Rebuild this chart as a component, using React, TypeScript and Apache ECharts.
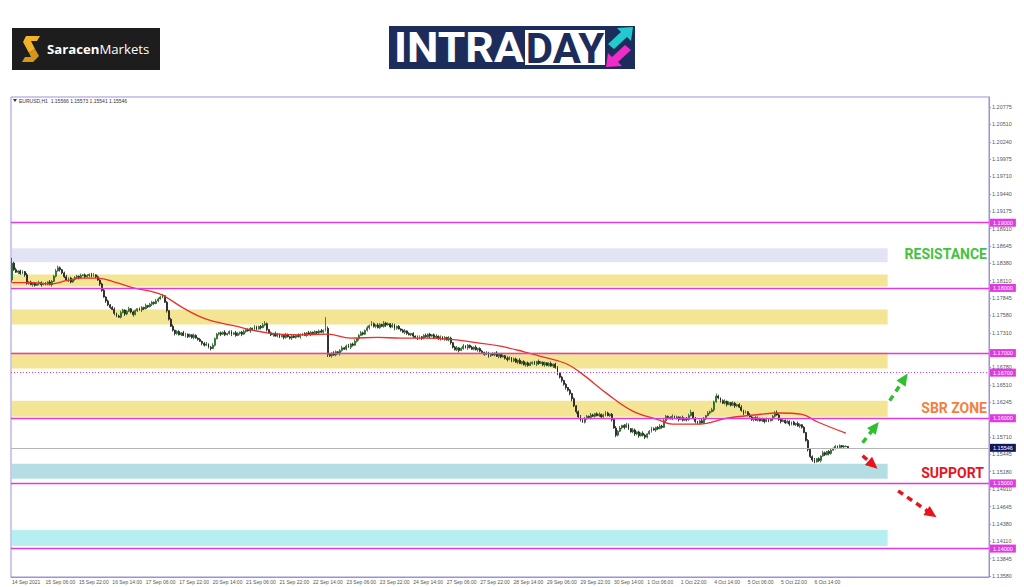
import React, { useEffect, useRef } from "react";
import * as echarts from "echarts";

// ---- data (pips above 1.1000, i.e. 822 -> 1.1822) ----
const firstOpen = 812;
const closes = [
  838,828,824,826,822,825,820,807,809,805,807,804,806,808,805,807,806,809,805,810,
  818,826,831,828,823,817,812,815,809,813,816,818,816,819,820,817,819,821,818,820,
  817,812,806,796,786,780,774,770,767,761,757,755,762,766,760,764,768,763,759,765,
  768,766,770,768,773,771,775,778,776,780,783,786,788,778,765,752,741,735,730,733,
  728,731,727,729,725,728,724,727,723,721,718,715,712,714,709,707,712,722,729,731,
  729,732,728,730,733,729,731,727,730,732,729,733,736,734,738,736,740,737,741,739,
  743,745,736,731,728,730,726,729,725,727,724,728,725,723,726,724,727,725,728,730,
  727,731,729,732,730,733,731,734,732,735,738,698,696,700,697,702,699,704,708,706,
  711,709,714,712,718,722,727,731,729,735,739,742,745,741,743,739,744,741,746,743,
  745,740,743,738,741,737,735,732,734,730,728,730,726,724,722,725,723,727,725,729,
  726,728,724,726,722,725,721,724,720,723,716,709,705,708,704,707,711,708,712,709,
  706,709,705,707,703,701,698,700,696,699,697,700,695,698,694,696,692,690,693,688,
  691,686,689,684,687,682,685,681,684,686,683,687,684,686,682,685,681,684,680,683,
  678,669,663,658,652,647,643,638,630,619,610,602,597,594,599,603,601,605,603,607,
  604,606,602,605,608,604,606,598,585,574,580,585,589,586,590,584,579,582,576,579,
  573,577,574,571,576,580,584,582,586,584,588,586,596,603,601,599,603,600,602,598,
  601,597,600,598,604,609,600,595,592,596,593,600,604,608,610,613,625,634,631,627,
  623,626,621,624,620,623,619,621,617,612,608,610,605,602,598,601,597,600,596,599,
  595,598,596,599,603,608,605,598,595,597,593,595,591,594,590,592,588,590,586,578,
  566,552,541,536,533,538,535,542,547,544,549,546,551,554,557,555,558,556,557,556.6,
  554.6,
];
const wickUp = [
  8,2,3,1,2,2,1,3,1,2,1,2,1,3,2,1,2,1,3,2,
  2,3,3,2,1,2,3,1,2,1,2,2,1,3,1,2,2,1,2,3,
  1,2,1,2,3,1,2,1,2,3,1,2,3,2,1,2,3,1,2,2,
  1,2,2,1,3,1,2,2,1,3,2,2,3,1,2,1,2,3,1,2,
  2,1,3,2,1,2,1,3,2,1,2,1,2,3,1,2,3,2,2,1,
  2,1,3,1,2,2,1,3,2,1,2,3,1,2,2,1,3,2,1,2,
  3,4,2,1,2,1,3,2,1,2,1,3,2,1,2,2,1,3,2,1,
  2,1,3,2,1,2,1,2,3,1,17,3,2,1,3,2,1,2,3,1,
  2,3,1,2,3,1,2,3,2,1,3,2,4,2,1,3,2,1,3,2,
  2,1,3,2,1,2,1,2,3,1,2,1,2,1,3,2,1,2,3,1,
  2,1,2,3,1,2,1,2,1,3,2,1,2,3,1,2,3,1,2,1,
  2,1,3,1,2,2,1,3,2,1,2,1,3,2,1,2,1,3,2,1,
  2,2,1,3,1,2,1,2,3,1,2,1,3,2,1,2,1,2,3,1,
  2,2,1,2,1,2,1,2,1,2,1,2,3,2,3,2,1,3,2,1,
  2,3,1,2,3,2,1,2,1,3,2,3,1,2,3,2,1,3,2,1,
  2,1,3,2,1,2,3,2,1,2,3,2,3,2,1,2,3,1,2,1,
  2,3,1,2,3,4,1,2,1,2,3,2,1,3,2,3,2,4,2,1,
  2,3,1,2,1,3,2,1,2,3,1,2,1,3,2,1,2,3,1,2,
  1,3,2,1,2,3,4,2,1,2,1,3,2,1,2,1,3,2,1,2,
  1,2,1,2,3,1,2,1,3,2,1,2,3,1,2,1,2,1,2,1,
  0.7,
];
const wickDn = [
  4,2,1,3,2,1,3,2,2,1,3,2,1,2,3,1,2,2,1,3,
  1,2,1,3,2,2,1,3,2,1,2,1,3,2,1,2,1,3,2,1,
  2,1,3,2,1,3,2,2,1,3,2,1,2,1,3,2,1,2,3,1,
  2,1,3,2,1,2,1,3,2,1,2,1,2,1,3,2,1,2,3,2,
  1,2,1,3,2,1,2,3,1,2,1,3,2,1,2,3,1,2,1,2,
  3,1,2,1,2,3,1,2,1,2,3,1,2,1,3,2,1,2,1,3,
  1,2,3,1,2,3,1,2,2,1,3,2,1,2,3,1,2,1,3,2,
  1,2,1,3,2,1,2,3,1,2,2,4,2,3,1,2,1,3,2,1,
  2,1,3,2,1,2,3,1,2,1,2,3,1,2,3,1,2,1,2,3,
  1,2,1,3,2,1,2,1,3,2,1,2,3,1,2,1,3,2,1,2,
  3,1,2,1,2,3,1,2,1,2,3,2,1,2,3,1,2,1,3,2,
  1,2,1,3,2,1,2,1,3,2,1,2,1,3,2,1,2,3,1,2,
  2,1,3,1,2,1,3,2,1,2,1,3,2,1,2,3,1,2,1,3,
  2,3,2,3,2,3,2,3,4,2,3,2,2,1,2,1,2,3,1,2,
  1,2,3,1,2,1,2,3,1,3,2,1,2,3,1,2,1,2,3,2,
  3,1,2,3,2,1,2,1,3,2,1,2,1,2,3,1,2,1,2,3,
  1,2,1,3,2,1,2,3,1,2,1,2,3,1,2,1,3,1,2,3,
  1,2,3,1,2,1,3,2,1,2,3,1,2,1,2,3,1,2,1,2,
  3,1,2,1,3,2,1,2,3,1,2,1,3,2,1,2,1,3,2,1,
  2,3,2,3,2,1,2,3,1,2,1,3,2,1,2,1,2,1,2,1,
  0.5,
];
// moving average, [candle index, pips]
const maPoints = [
  [0,808],[10,808],[18,806],[26,811],[33,815],[41,815],[50,808],[58,800],[66,795],[72,789],
  [82,769],[93,752],[106,742],[122,731],[138,728],[151,729],[162,723],[175,724],[186,723],
  [198,723],[210,721],[222,716],[233,711],[245,702],[253,695],[265,684],[272,670],[285,637],
  [297,611],[309,598],[316,591],[329,591],[342,600],[355,605],[367,608],[378,606],[385,595],[399,577],
];
const xTickLabels = [
  "14 Sep 2021","15 Sep 06:00","15 Sep 22:00","16 Sep 14:00","17 Sep 06:00","17 Sep 22:00",
  "20 Sep 14:00","21 Sep 06:00","21 Sep 22:00","22 Sep 14:00","23 Sep 06:00","23 Sep 22:00",
  "24 Sep 14:00","27 Sep 06:00","27 Sep 22:00","28 Sep 14:00","29 Sep 06:00","29 Sep 22:00",
  "30 Sep 14:00","1 Oct 06:00","1 Oct 22:00","4 Oct 14:00","5 Oct 06:00","5 Oct 22:00","6 Oct 14:00",
];
const yTickValues = [
  1.20775,1.2051,1.2024,1.19975,1.1971,1.1944,1.19175,1.1891,1.18645,1.1838,1.1811,1.17845,
  1.1758,1.1731,1.1705,1.1678,1.1651,1.16245,1.1598,1.1571,1.15445,1.1518,1.1491,1.14645,
  1.1438,1.1411,1.13845,1.1358,
];
// tick labels hidden behind the level boxes in the reference
const yHiddenLabels = [1.1705, 1.1598];
const roundLevels = [1.19, 1.18, 1.17, 1.16, 1.15, 1.14];
const dottedLevel = 1.167;
const currentPrice = 1.15546;
const resistanceZone = [1.18607, 1.18392];
const sbrZones = [[1.18207, 1.18023], [1.17669, 1.17439], [1.17008, 1.16762], [1.1627, 1.16024]];
const supportZone = [1.15301, 1.1507];
const lowerZone = [1.14286, 1.14041];
// arrows: [fromIndex, fromPrice, toIndex, toPrice]
const greenArrows = [[407, 1.15624, 413, 1.1587], [420, 1.1627, 427, 1.16608]];
const redArrows = [[407, 1.15424, 412, 1.15286], [424, 1.14886, 440, 1.14533]];
const headerText = "EURUSD,H1  1.15566 1.15573 1.15541 1.15546";

const SLOTS = 468;
const ZONE_END = 419;
const toPrice = (v: number) => 1.1 + v / 10000;

export default function App() {
  const ref = useRef<HTMLDivElement>(null);
  useEffect(() => {
    const chart = echarts.init(ref.current!, null, { renderer: "svg" });
    const cats = Array.from({ length: SLOTS }, (_, i) => String(i));
    const candleData = closes.map((c, i) => {
      const o = i === 0 ? firstOpen : closes[i - 1];
      const hi = Math.max(o, c) + wickUp[i];
      const lo = Math.min(o, c) - wickDn[i];
      return [toPrice(o), toPrice(c), toPrice(lo), toPrice(hi)];
    });
    const showTick = (idx: number) => idx % 16 === 0 && idx / 16 < xTickLabels.length;
    const MAG = "#e03be0";
    const area = (r: number[], color: string) => [
      { coord: [0, r[0]], itemStyle: { color } },
      { coord: [ZONE_END, r[1]] },
    ];
    const lvlLabel = (v: number, bg: string) => ({
      show: true,
      position: "end",
      distance: 1,
      formatter: () => v.toFixed(5),
      backgroundColor: bg,
      color: "#fff",
      fontSize: 5.5,
      fontFamily: "Liberation Sans",
      padding: [1, 3, 1, 3],
    });
    const arrowLines = (arr: number[][]) =>
      arr.map((a) => [
        { coord: [String(a[0]), a[1]] },
        { coord: [String(a[2]), a[3]] },
      ]);
    const labelValues = yTickValues.filter((v) => !yHiddenLabels.includes(v));
    chart.setOption({
      animation: false,
      backgroundColor: "#ffffff",
      grid: { left: 11, right: 35, top: 97, bottom: 10, show: true, borderColor: "#9a93d8", borderWidth: 1 },
      xAxis: {
        type: "category",
        data: cats,
        boundaryGap: true,
        axisLine: { lineStyle: { color: "#9a93d8" } },
        axisTick: { interval: (i: number) => showTick(i), length: 3, lineStyle: { color: "#9a93d8" } },
        axisLabel: {
          interval: (i: number) => showTick(i),
          formatter: (_v: string, i: number) => xTickLabels[i / 16] || "",
          fontSize: 5,
          color: "#555",
          align: "left",
          margin: 2,
          fontFamily: "Liberation Sans",
        },
        splitLine: { show: false },
      },
      yAxis: {
        type: "value",
        position: "right",
        min: 1.13564,
        max: 1.20929,
        scale: true,
        axisLine: { show: true, lineStyle: { color: "#9a93d8" } },
        axisTick: { show: true, customValues: yTickValues, length: 2, lineStyle: { color: "#9a93d8" } },
        axisLabel: {
          customValues: labelValues,
          formatter: (v: number) => v.toFixed(5),
          fontSize: 5.5,
          color: "#555",
          margin: 3,
          fontFamily: "Liberation Sans",
        },
        splitLine: { show: false },
      },
      series: [
        {
          type: "line",
          data: [],
          z: 1,
          markArea: {
            silent: true,
            data: [
              area(resistanceZone, "#e2e4f6"),
              ...sbrZones.map((z) => area(z, "#f3e593")),
              area(supportZone, "#b5dde4"),
              area(lowerZone, "#b6eff0"),
            ],
          },
        },
        {
          type: "line",
          data: [],
          z: 2,
          markLine: {
            silent: true,
            symbol: "none",
            precision: 5,
            data: [
              ...roundLevels.map((v) => ({ yAxis: v, lineStyle: { color: MAG, width: 1.3, type: "solid" }, label: lvlLabel(v, MAG) })),
              { yAxis: dottedLevel, lineStyle: { color: MAG, width: 1, type: [1, 2] }, label: lvlLabel(dottedLevel, MAG) },
              { yAxis: currentPrice, lineStyle: { color: "#b5b5b5", width: 1, type: "solid" }, label: lvlLabel(currentPrice, "#15155e") },
            ],
          },
        },
        {
          type: "candlestick",
          data: candleData,
          z: 3,
          barWidth: 1.4,
          itemStyle: { color: "#3a9a3a", color0: "#222222", borderColor: "#1f5f1f", borderColor0: "#1a1a1a", borderWidth: 0.8 },
        },
        {
          type: "line",
          data: maPoints.map(([i, v]) => [i, toPrice(v)]),
          z: 4,
          smooth: 0.4,
          showSymbol: false,
          lineStyle: { color: "#e5322c", width: 1.3 },
        },
        {
          type: "line",
          data: [],
          z: 5,
          markLine: {
            silent: true,
            precision: 5,
            symbol: ["none", "triangle"],
            symbolSize: [11, 12],
            lineStyle: { color: "#2fbf2f", width: 3.5, type: [6, 5] },
            label: { show: false },
            data: arrowLines(greenArrows),
          },
        },
        {
          type: "line",
          data: [],
          z: 5,
          markLine: {
            silent: true,
            precision: 5,
            symbol: ["none", "triangle"],
            symbolSize: [11, 12],
            lineStyle: { color: "#e8141b", width: 3.5, type: [6, 5] },
            label: { show: false },
            data: arrowLines(redArrows),
          },
        },
      ],
      graphic: [
        { type: "rect", shape: { x: 12, y: 28, width: 148, height: 42 }, style: { fill: "#1d1d1d" } },
        { type: "polygon", shape: { points: [[26, 36], [40, 36], [37, 41], [31, 41], [35, 49], [29, 53], [23, 42]] }, style: { fill: "#f2b22a" } },
        { type: "polygon", shape: { points: [[35, 49], [39, 56], [33, 62], [22, 62], [25, 57], [31, 57], [29, 53]] }, style: { fill: "#d6961a" } },
        {
          type: "text", x: 47, y: 49,
          style: {
            text: "{b|Saracen}{n|Markets}",
            verticalAlign: "middle",
            rich: {
              b: { fontWeight: "bold", fontSize: 13.2, fill: "#ffffff", fontFamily: "Open Sans" },
              n: { fontWeight: "normal", fontSize: 13.2, fill: "#ffffff", fontFamily: "Open Sans" },
            },
          },
        },
        { type: "rect", shape: { x: 389, y: 26, width: 246, height: 43 }, style: { fill: "#1c2d5b" } },
        { type: "text", x: 394, y: 48, scaleX: 1.06, style: { text: "INTRA", fill: "#ffffff", fontSize: 42, fontWeight: "bold", fontFamily: "Roboto", verticalAlign: "middle" } },
        { type: "rect", shape: { x: 525, y: 30, width: 80, height: 35 }, style: { fill: "#ffffff" } },
        { type: "text", x: 565, y: 48, style: { text: "DAY", fill: "#1c2d5b", fontSize: 42, fontWeight: "bold", fontFamily: "Roboto", align: "center", verticalAlign: "middle" } },
        { type: "polygon", shape: { points: [[633, 27], [631, 41], [627, 37], [614, 49], [608, 44], [621, 32], [617, 28]] }, style: { fill: "#22c9cf" } },
        { type: "polygon", shape: { points: [[606, 67], [608, 53], [612, 57], [625, 45], [631, 50], [618, 62], [622, 66]] }, style: { fill: "#f02bc8" } },
        { type: "polygon", shape: { points: [[13, 99], [17, 99], [15, 102]] }, style: { fill: "#333" } },
        { type: "text", x: 19, y: 101, style: { text: headerText, fill: "#333", fontSize: 5, fontFamily: "Liberation Sans", verticalAlign: "middle" } },
        { type: "text", x: 987, y: 254, style: { text: "RESISTANCE", fill: "#45c23f", fontSize: 14, fontWeight: "bold", fontFamily: "Roboto", align: "right", verticalAlign: "middle" } },
        { type: "text", x: 987, y: 408, style: { text: "SBR ZONE", fill: "#f3803f", fontSize: 14, fontWeight: "bold", fontFamily: "Roboto", align: "right", verticalAlign: "middle" } },
        { type: "text", x: 984, y: 473, style: { text: "SUPPORT", fill: "#e5141c", fontSize: 14, fontWeight: "bold", fontFamily: "Roboto", align: "right", verticalAlign: "middle" } },
      ],
    });
    return () => chart.dispose();
  }, []);
  return (
    <div
      ref={ref}
      style={{ position: "fixed", left: 0, top: 0, width: 1024, height: 587, background: "#fff" }}
    />
  );
}
